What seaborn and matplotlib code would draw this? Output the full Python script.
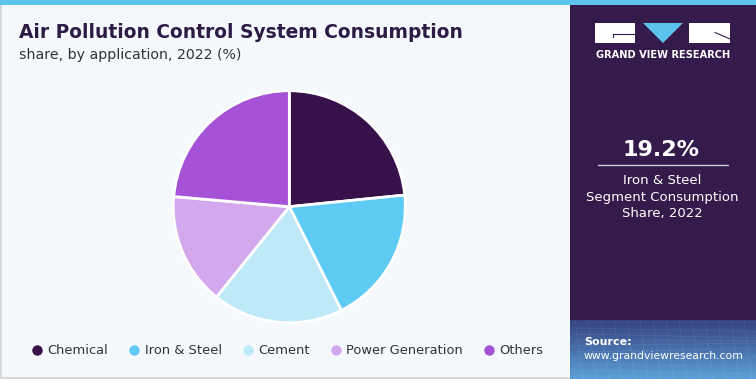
import numpy as np
import matplotlib
matplotlib.use("Agg")
import matplotlib.pyplot as plt
from matplotlib.patches import Rectangle, Polygon
from matplotlib.lines import Line2D
import seaborn as sns

categories = ["Chemical", "Iron & Steel", "Cement", "Power Generation", "Others"]
shares = [23.4, 19.2, 18.2, 15.6, 23.6]
colors_hex = ["#37124a", "#5ecbf5", "#bde9f8", "#d4a8ec", "#a552d6"]
title = "Air Pollution Control System Consumption"
subtitle = "share, by application, 2022 (%)"
highlight_value = "19.2%"
highlight_text = "Iron & Steel\nSegment Consumption\nShare, 2022"

sns.set_theme(style="white")
plt.rcParams["font.family"] = ["DejaVu Sans"]
palette = sns.color_palette(colors_hex)

W, H = 756, 379
fig = plt.figure(figsize=(W / 100, H / 100), dpi=100)
fig.patch.set_facecolor("#f5f8fc")

def fx(x):
    return x / W

def fy(y):
    return 1 - y / H

# background overlay axes
bg = fig.add_axes([0, 0, 1, 1])
bg.set_xlim(0, W)
bg.set_ylim(H, 0)
bg.axis("off")
# left panel border
bg.add_patch(Rectangle((0.5, 0), 570, 378, facecolor="#f5f8fc", edgecolor="#cfd3d8", lw=1.2))
# right panel
bg.add_patch(Rectangle((570, 0), 186, 379, facecolor="#351b4b", edgecolor="none"))
# top bar
bg.add_patch(Rectangle((0, 0), W, 5, facecolor="#5bc3ee", edgecolor="none"))
# source gradient box
grad = np.linspace(0, 1, 60).reshape(-1, 1)
c1 = np.array(matplotlib.colors.to_rgb("#34427f"))
c2 = np.array(matplotlib.colors.to_rgb("#5b9fd8"))
img = c1[None, None, :] * (1 - grad[..., None]) + c2[None, None, :] * grad[..., None]
img = np.repeat(img, 2, axis=1)
bg.imshow(img, extent=(570, 756, 379, 320), aspect="auto", zorder=1)
for k in range(10):
    yy = 322 + k * 6
    bg.plot([572, 756], [yy, yy + 4 * np.sin(k)], color="white", alpha=0.08, lw=0.6, zorder=2)
for k in range(14):
    xx = 575 + k * 13
    bg.plot([xx, xx + 8], [320, 379], color="white", alpha=0.08, lw=0.6, zorder=2)

# logo
bg.add_patch(Rectangle((595, 23), 40, 20, facecolor="white", edgecolor="none", zorder=3))
bg.add_patch(Polygon([(643, 23), (683, 23), (663, 43)], closed=True, facecolor="#5bc3ee", edgecolor="none", zorder=3))
bg.add_patch(Rectangle((689, 23), 41, 20, facecolor="white", edgecolor="none", zorder=3))
bg.plot([613, 635], [33.5, 33.5], color="#351b4b", lw=0.8, zorder=4)
bg.plot([613, 613], [33.5, 37], color="#351b4b", lw=0.8, zorder=4)
bg.plot([715, 730], [32.5, 39], color="#351b4b", lw=0.8, zorder=4)
bg.text(663, 55, "GRAND VIEW RESEARCH", color="white", fontsize=7.1, fontweight="bold",
        ha="center", va="center", zorder=4)

# highlight
bg.text(661, 150, highlight_value, color="white", fontsize=16, fontweight="bold",
        ha="center", va="center", zorder=4)
bg.plot([598, 728], [164.5, 164.5], color="#d0d0d8", lw=1, zorder=4)
bg.text(662, 197, highlight_text, color="white", fontsize=9.5, ha="center", va="center",
        linespacing=1.38, zorder=4)

# source
bg.text(584, 342, "Source:", color="white", fontsize=8.0, fontweight="bold", ha="left", va="center", zorder=4)
bg.text(584, 356, "www.grandviewresearch.com", color="white", fontsize=7.8, ha="left", va="center", zorder=4)

# titles
bg.text(19, 32, title, color="#2d1b45", fontsize=13.4, fontweight="heavy", ha="left", va="center")
bg.text(19, 55, subtitle, color="#333333", fontsize=10.2, ha="left", va="center")

# pie
cx, cy, r = 289.3, 206.7, 116
ax = fig.add_axes([fx(cx - r), fy(cy + r), 2 * r / W, 2 * r / H])
ax.pie(shares, colors=palette, startangle=90, counterclock=False,
       wedgeprops=dict(edgecolor="white", linewidth=2))
ax.set_xlim(-1, 1)
ax.set_ylim(-1, 1)
ax.set_aspect("auto")
ax.axis("off")

# legend
handles = [Line2D([0], [0], marker="o", linestyle="none", markersize=7.5,
                  markerfacecolor=c, markeredgecolor="none") for c in palette]
leg = fig.legend(handles, categories, loc="center left", bbox_to_anchor=(fx(27), fy(351)),
                 ncol=5, frameon=False, fontsize=9.4, handlelength=0.7, handletextpad=0.45,
                 columnspacing=1.65, borderaxespad=0)
for t in leg.get_texts():
    t.set_color("#333333")

fig.savefig("out.png", dpi=100, facecolor=fig.get_facecolor())
